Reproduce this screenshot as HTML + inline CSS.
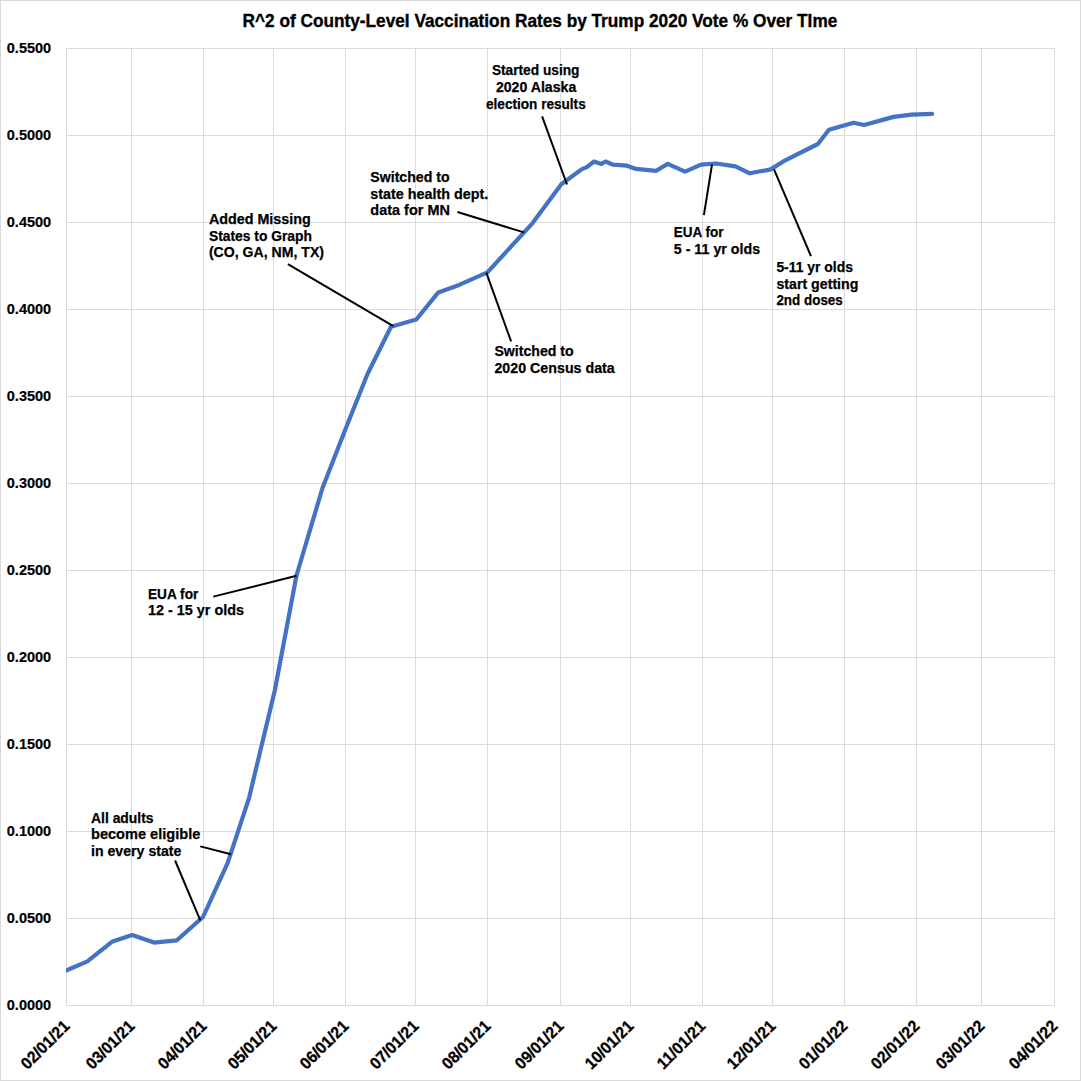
<!DOCTYPE html>
<html><head><meta charset="utf-8"><style>
html,body{margin:0;padding:0;background:#fff;}
svg{display:block;}
text{font-family:"Liberation Sans", sans-serif;font-weight:bold;fill:#000;}
</style></head><body>
<svg width="1081" height="1081" viewBox="0 0 1081 1081">
<defs><clipPath id="pc"><rect x="66" y="0" width="990" height="1081"/></clipPath></defs>
<rect x="0.5" y="0.5" width="1080" height="1080" fill="#fff" stroke="#d9d9d9" stroke-width="1"/>
<line x1="66.00" y1="1005.50" x2="1055.00" y2="1005.50" stroke="#dcdcdc" stroke-width="1"/>
<line x1="66.00" y1="918.50" x2="1055.00" y2="918.50" stroke="#dcdcdc" stroke-width="1"/>
<line x1="66.00" y1="831.50" x2="1055.00" y2="831.50" stroke="#dcdcdc" stroke-width="1"/>
<line x1="66.00" y1="744.50" x2="1055.00" y2="744.50" stroke="#dcdcdc" stroke-width="1"/>
<line x1="66.00" y1="657.50" x2="1055.00" y2="657.50" stroke="#dcdcdc" stroke-width="1"/>
<line x1="66.00" y1="570.50" x2="1055.00" y2="570.50" stroke="#dcdcdc" stroke-width="1"/>
<line x1="66.00" y1="483.50" x2="1055.00" y2="483.50" stroke="#dcdcdc" stroke-width="1"/>
<line x1="66.00" y1="396.50" x2="1055.00" y2="396.50" stroke="#dcdcdc" stroke-width="1"/>
<line x1="66.00" y1="309.50" x2="1055.00" y2="309.50" stroke="#dcdcdc" stroke-width="1"/>
<line x1="66.00" y1="222.50" x2="1055.00" y2="222.50" stroke="#dcdcdc" stroke-width="1"/>
<line x1="66.00" y1="135.50" x2="1055.00" y2="135.50" stroke="#dcdcdc" stroke-width="1"/>
<line x1="66.00" y1="48.50" x2="1055.00" y2="48.50" stroke="#dcdcdc" stroke-width="1"/>
<line x1="66.50" y1="48" x2="66.50" y2="1006" stroke="#dcdcdc" stroke-width="1"/>
<line x1="131.50" y1="48" x2="131.50" y2="1006" stroke="#dcdcdc" stroke-width="1"/>
<line x1="203.50" y1="48" x2="203.50" y2="1006" stroke="#dcdcdc" stroke-width="1"/>
<line x1="273.50" y1="48" x2="273.50" y2="1006" stroke="#dcdcdc" stroke-width="1"/>
<line x1="345.50" y1="48" x2="345.50" y2="1006" stroke="#dcdcdc" stroke-width="1"/>
<line x1="415.50" y1="48" x2="415.50" y2="1006" stroke="#dcdcdc" stroke-width="1"/>
<line x1="487.50" y1="48" x2="487.50" y2="1006" stroke="#dcdcdc" stroke-width="1"/>
<line x1="560.50" y1="48" x2="560.50" y2="1006" stroke="#dcdcdc" stroke-width="1"/>
<line x1="630.50" y1="48" x2="630.50" y2="1006" stroke="#dcdcdc" stroke-width="1"/>
<line x1="702.50" y1="48" x2="702.50" y2="1006" stroke="#dcdcdc" stroke-width="1"/>
<line x1="772.50" y1="48" x2="772.50" y2="1006" stroke="#dcdcdc" stroke-width="1"/>
<line x1="844.50" y1="48" x2="844.50" y2="1006" stroke="#dcdcdc" stroke-width="1"/>
<line x1="916.50" y1="48" x2="916.50" y2="1006" stroke="#dcdcdc" stroke-width="1"/>
<line x1="981.50" y1="48" x2="981.50" y2="1006" stroke="#dcdcdc" stroke-width="1"/>
<line x1="1054.50" y1="48" x2="1054.50" y2="1006" stroke="#dcdcdc" stroke-width="1"/>
<text x="6.80" y="1009.80" stroke="#000" stroke-width="0.2" font-size="15" textLength="44.4" lengthAdjust="spacingAndGlyphs">0.0000</text>
<text x="6.80" y="922.80" stroke="#000" stroke-width="0.2" font-size="15" textLength="44.4" lengthAdjust="spacingAndGlyphs">0.0500</text>
<text x="6.80" y="835.80" stroke="#000" stroke-width="0.2" font-size="15" textLength="44.4" lengthAdjust="spacingAndGlyphs">0.1000</text>
<text x="6.80" y="748.80" stroke="#000" stroke-width="0.2" font-size="15" textLength="44.4" lengthAdjust="spacingAndGlyphs">0.1500</text>
<text x="6.80" y="661.80" stroke="#000" stroke-width="0.2" font-size="15" textLength="44.4" lengthAdjust="spacingAndGlyphs">0.2000</text>
<text x="6.80" y="574.80" stroke="#000" stroke-width="0.2" font-size="15" textLength="44.4" lengthAdjust="spacingAndGlyphs">0.2500</text>
<text x="6.80" y="487.80" stroke="#000" stroke-width="0.2" font-size="15" textLength="44.4" lengthAdjust="spacingAndGlyphs">0.3000</text>
<text x="6.80" y="400.80" stroke="#000" stroke-width="0.2" font-size="15" textLength="44.4" lengthAdjust="spacingAndGlyphs">0.3500</text>
<text x="6.80" y="313.80" stroke="#000" stroke-width="0.2" font-size="15" textLength="44.4" lengthAdjust="spacingAndGlyphs">0.4000</text>
<text x="6.80" y="226.80" stroke="#000" stroke-width="0.2" font-size="15" textLength="44.4" lengthAdjust="spacingAndGlyphs">0.4500</text>
<text x="6.80" y="139.80" stroke="#000" stroke-width="0.2" font-size="15" textLength="44.4" lengthAdjust="spacingAndGlyphs">0.5000</text>
<text x="6.80" y="52.80" stroke="#000" stroke-width="0.2" font-size="15" textLength="44.4" lengthAdjust="spacingAndGlyphs">0.5500</text>
<text transform="translate(70.60,1027.10) rotate(-45)" text-anchor="end" stroke="#000" stroke-width="0.3" font-size="16.5" textLength="61" lengthAdjust="spacingAndGlyphs">02/01/21</text>
<text transform="translate(135.60,1027.10) rotate(-45)" text-anchor="end" stroke="#000" stroke-width="0.3" font-size="16.5" textLength="61" lengthAdjust="spacingAndGlyphs">03/01/21</text>
<text transform="translate(207.60,1027.10) rotate(-45)" text-anchor="end" stroke="#000" stroke-width="0.3" font-size="16.5" textLength="61" lengthAdjust="spacingAndGlyphs">04/01/21</text>
<text transform="translate(277.60,1027.10) rotate(-45)" text-anchor="end" stroke="#000" stroke-width="0.3" font-size="16.5" textLength="61" lengthAdjust="spacingAndGlyphs">05/01/21</text>
<text transform="translate(349.60,1027.10) rotate(-45)" text-anchor="end" stroke="#000" stroke-width="0.3" font-size="16.5" textLength="61" lengthAdjust="spacingAndGlyphs">06/01/21</text>
<text transform="translate(419.60,1027.10) rotate(-45)" text-anchor="end" stroke="#000" stroke-width="0.3" font-size="16.5" textLength="61" lengthAdjust="spacingAndGlyphs">07/01/21</text>
<text transform="translate(491.60,1027.10) rotate(-45)" text-anchor="end" stroke="#000" stroke-width="0.3" font-size="16.5" textLength="61" lengthAdjust="spacingAndGlyphs">08/01/21</text>
<text transform="translate(564.60,1027.10) rotate(-45)" text-anchor="end" stroke="#000" stroke-width="0.3" font-size="16.5" textLength="61" lengthAdjust="spacingAndGlyphs">09/01/21</text>
<text transform="translate(634.60,1027.10) rotate(-45)" text-anchor="end" stroke="#000" stroke-width="0.3" font-size="16.5" textLength="61" lengthAdjust="spacingAndGlyphs">10/01/21</text>
<text transform="translate(706.60,1027.10) rotate(-45)" text-anchor="end" stroke="#000" stroke-width="0.3" font-size="16.5" textLength="61" lengthAdjust="spacingAndGlyphs">11/01/21</text>
<text transform="translate(776.60,1027.10) rotate(-45)" text-anchor="end" stroke="#000" stroke-width="0.3" font-size="16.5" textLength="61" lengthAdjust="spacingAndGlyphs">12/01/21</text>
<text transform="translate(848.60,1027.10) rotate(-45)" text-anchor="end" stroke="#000" stroke-width="0.3" font-size="16.5" textLength="61" lengthAdjust="spacingAndGlyphs">01/01/22</text>
<text transform="translate(920.60,1027.10) rotate(-45)" text-anchor="end" stroke="#000" stroke-width="0.3" font-size="16.5" textLength="61" lengthAdjust="spacingAndGlyphs">02/01/22</text>
<text transform="translate(985.60,1027.10) rotate(-45)" text-anchor="end" stroke="#000" stroke-width="0.3" font-size="16.5" textLength="61" lengthAdjust="spacingAndGlyphs">03/01/22</text>
<text transform="translate(1058.60,1027.10) rotate(-45)" text-anchor="end" stroke="#000" stroke-width="0.3" font-size="16.5" textLength="61" lengthAdjust="spacingAndGlyphs">04/01/22</text>
<text x="242.6" y="26.9" stroke="#000" stroke-width="0.35" font-size="18" textLength="594.7" lengthAdjust="spacingAndGlyphs">R^2 of County-Level Vaccination Rates by Trump 2020 Vote % Over TIme</text>
<path d="M66.7,970.3 L87.4,961.4 L112.5,941.4 L132.2,935.1 L154.0,942.6 L176.9,940.3 L203.0,917.0 L227.7,862.9 L249.1,797.8 L274.9,690.0 L296.5,575.5 L322.5,488.0 L347.5,424.0 L367.5,374.0 L391.0,326.8 L416.3,319.5 L438.3,292.4 L459.1,284.9 L487.4,272.4 L532.4,223.3 L561.3,184.3 L581.9,169.1 L586.8,167.1 L594.1,161.5 L601.3,163.9 L605.5,161.5 L613.1,164.7 L627.0,165.7 L636.0,168.9 L656.2,170.8 L667.7,163.9 L685.0,171.6 L701.1,164.6 L716.1,163.5 L735.5,166.4 L749.7,173.3 L770.7,169.4 L785.2,160.3 L817.9,144.0 L829.0,129.7 L853.6,122.8 L864.0,125.0 L893.6,116.9 L911.4,114.7 L932.1,113.8" fill="none" stroke="#4472c4" stroke-width="4.2" stroke-linejoin="round" stroke-linecap="round" clip-path="url(#pc)"/>
<text x="491.90" y="75.00" stroke="#000" stroke-width="0.25" font-size="15" textLength="87.60" lengthAdjust="spacingAndGlyphs">Started using</text>
<text x="495.90" y="92.00" stroke="#000" stroke-width="0.25" font-size="15" textLength="80.40" lengthAdjust="spacingAndGlyphs">2020 Alaska</text>
<text x="486.00" y="108.60" stroke="#000" stroke-width="0.25" font-size="15" textLength="99.70" lengthAdjust="spacingAndGlyphs">election results</text>
<text x="370.30" y="182.00" stroke="#000" stroke-width="0.25" font-size="15" textLength="79.30" lengthAdjust="spacingAndGlyphs">Switched to</text>
<text x="370.30" y="198.60" stroke="#000" stroke-width="0.25" font-size="15" textLength="117.90" lengthAdjust="spacingAndGlyphs">state health dept.</text>
<text x="370.30" y="215.30" stroke="#000" stroke-width="0.25" font-size="15" textLength="79.60" lengthAdjust="spacingAndGlyphs">data for MN</text>
<text x="208.90" y="224.00" stroke="#000" stroke-width="0.25" font-size="15" textLength="101.80" lengthAdjust="spacingAndGlyphs">Added Missing</text>
<text x="208.90" y="240.70" stroke="#000" stroke-width="0.25" font-size="15" textLength="103.10" lengthAdjust="spacingAndGlyphs">States to Graph</text>
<text x="208.90" y="256.80" stroke="#000" stroke-width="0.25" font-size="15" textLength="115.10" lengthAdjust="spacingAndGlyphs">(CO, GA, NM, TX)</text>
<text x="494.40" y="355.50" stroke="#000" stroke-width="0.25" font-size="15" textLength="79.20" lengthAdjust="spacingAndGlyphs">Switched to</text>
<text x="494.40" y="372.50" stroke="#000" stroke-width="0.25" font-size="15" textLength="120.40" lengthAdjust="spacingAndGlyphs">2020 Census data</text>
<text x="673.80" y="236.90" stroke="#000" stroke-width="0.25" font-size="15" textLength="49.70" lengthAdjust="spacingAndGlyphs">EUA for</text>
<text x="673.80" y="253.80" stroke="#000" stroke-width="0.25" font-size="15" textLength="86.30" lengthAdjust="spacingAndGlyphs">5 - 11 yr olds</text>
<text x="776.40" y="271.50" stroke="#000" stroke-width="0.25" font-size="15" textLength="76.50" lengthAdjust="spacingAndGlyphs">5-11 yr olds</text>
<text x="776.40" y="289.00" stroke="#000" stroke-width="0.25" font-size="15" textLength="82.00" lengthAdjust="spacingAndGlyphs">start getting</text>
<text x="776.40" y="304.70" stroke="#000" stroke-width="0.25" font-size="15" textLength="66.40" lengthAdjust="spacingAndGlyphs">2nd doses</text>
<text x="148.00" y="598.60" stroke="#000" stroke-width="0.25" font-size="15" textLength="50.30" lengthAdjust="spacingAndGlyphs">EUA for</text>
<text x="148.00" y="615.30" stroke="#000" stroke-width="0.25" font-size="15" textLength="96.00" lengthAdjust="spacingAndGlyphs">12 - 15 yr olds</text>
<text x="91.00" y="822.80" stroke="#000" stroke-width="0.25" font-size="15" textLength="62.60" lengthAdjust="spacingAndGlyphs">All adults</text>
<text x="91.00" y="839.30" stroke="#000" stroke-width="0.25" font-size="15" textLength="109.30" lengthAdjust="spacingAndGlyphs">become eligible</text>
<text x="91.00" y="855.80" stroke="#000" stroke-width="0.25" font-size="15" textLength="90.40" lengthAdjust="spacingAndGlyphs">in every state</text>
<line x1="542.1" y1="116.4" x2="567" y2="184.5" stroke="#000" stroke-width="2"/>
<line x1="457.4" y1="212" x2="524" y2="232.4" stroke="#000" stroke-width="2"/>
<line x1="287.9" y1="264.2" x2="393.3" y2="326.2" stroke="#000" stroke-width="2"/>
<line x1="486.3" y1="272.6" x2="511.1" y2="341.4" stroke="#000" stroke-width="2"/>
<line x1="712" y1="164.7" x2="703.9" y2="215.2" stroke="#000" stroke-width="2"/>
<line x1="774" y1="169.3" x2="811" y2="256.2" stroke="#000" stroke-width="2"/>
<line x1="213.3" y1="596.6" x2="296.5" y2="575.8" stroke="#000" stroke-width="2"/>
<line x1="200.3" y1="846.4" x2="231" y2="854.3" stroke="#000" stroke-width="2"/>
<line x1="175.1" y1="860.5" x2="200.3" y2="920.3" stroke="#000" stroke-width="2"/>
</svg>
</body></html>
